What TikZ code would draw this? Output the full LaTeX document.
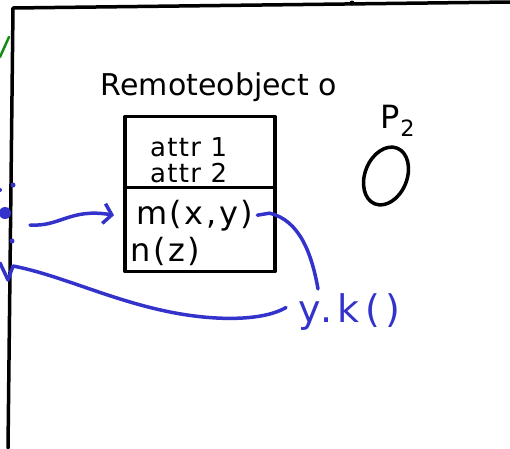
\documentclass[tikz,border=0pt]{standalone}
\usepackage{fontspec}
\setmainfont{DejaVu Sans}
\usetikzlibrary{positioning,arrows.meta,shapes.geometric}
\definecolor{penblue}{RGB}{51,51,204}
\definecolor{pengreen}{RGB}{20,140,20}
\begin{document}
\begin{tikzpicture}[
  x=1pt, y=-1pt,
  ink/.style={line width=3.5pt, line cap=round, line join=round},
  blueink/.style={ink, penblue},
  part/.style={draw, ink, minimum width=150pt, inner sep=0pt, outer sep=0pt},
  txt/.style={inner sep=0pt, anchor=base west},
]
  \useasboundingbox (0,0) rectangle (510,448);

  % Rahmen
  \draw[ink] (8,448) -- (13,8) -- (510,2);
  \fill (352,3) circle (2.5);
  \draw[ink, pengreen, line width=2.5pt] (0,57) -- (9,37);

  % Remoteobject o
  \node[anchor=base, font=\fontsize{30}{32}\selectfont] (title) at (219,95) {Remoteobject o};
  \node[part, minimum height=71pt] (attrs) at (200,152) {};
  \node[part, minimum height=84pt, below=0pt of attrs] (meths) {};
  \node[txt, font=\fontsize{26}{28}\selectfont\addfontfeature{LetterSpace=5}] (a1) at (150,156) {attr 1};
  \node[txt, font=\fontsize{26}{28}\selectfont\addfontfeature{LetterSpace=5}] (a2) at (150,182) {attr 2};
  \node[txt, font=\fontsize{32}{34}\selectfont\addfontfeature{LetterSpace=8}] (m) at (136,224) {m(x,y)};
  \node[txt, font=\fontsize{32}{34}\selectfont\addfontfeature{LetterSpace=8}] (n) at (130,261) {n(z)};

  % P2
  \node[anchor=base, font=\fontsize{32}{34}\selectfont] (plabel) at (398,128) {P\textsubscript{2}};
  \node[draw, ink, ellipse, minimum width=42pt, minimum height=60pt, rotate=-22] (pobj) at (386,176) {};

  % Aufrufer
  \fill[penblue] (5,213) circle (6);
  \fill[penblue] (13,185) circle (2.5);
  \fill[penblue] (12,241) circle (2.5);
  \fill[penblue] (0,190) circle (2);
  \coordinate (src) at (30,225);
  \coordinate (edge) at (0,263);

  % y.k()
  \node[txt, penblue, font=\fontsize{38}{40}\selectfont\addfontfeature{LetterSpace=14}] (call) at (298,322) {y.k()};

  \draw[blueink, -{Straight Barb[length=8pt, width=20pt]}] (src) .. controls (60,227) and (70,208) .. ([xshift=-22pt]m.west);
  \draw[blueink] ([xshift=4pt]m.east) -- ([xshift=16pt, yshift=2pt]m.east)
    .. controls (300,220) and (312,255) .. ([shift={(20,-4)}]call.north west);
  \draw[blueink] (edge) -- (8,280) -- (13,266) .. controls (60,275) and (110,300) .. (170,312)
    .. controls (220,322) and (265,320) .. ([xshift=-12pt, yshift=4pt]call.west);
\end{tikzpicture}
\end{document}
